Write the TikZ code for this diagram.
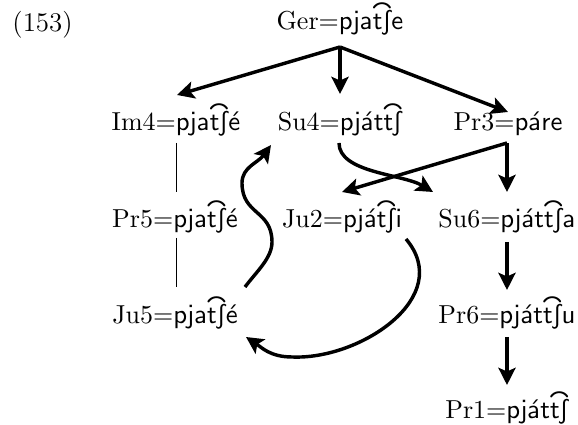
\documentclass[tikz,border=0pt]{standalone}
\usepackage{tipa}
\usetikzlibrary{arrows.meta,calc}
\newcommand\ipa[1]{\textipa{\fontfamily{cmss}\selectfont #1}}
\begin{document}
\begin{tikzpicture}[x=0.408pt,y=-0.408pt,
  lab/.style={anchor=base,inner sep=0pt,font=\fontsize{10.6}{12}\selectfont},
  arr/.style={line width=1.4pt,-{Stealth[length=7pt,width=7pt,inset=1.5pt]}},
  thin/.style={line width=0.4pt}]
\useasboundingbox (0,0) rectangle (578,425);
\node[anchor=base west,inner sep=0pt,font=\fontsize{11}{13}\selectfont] (num) at (12,32) {(153)};
\node[lab] (ger) at (340,30) {Ger=\ipa{pja\t{tS}e}};
\node[lab] (im4) at (176,131) {Im4=\ipa{pja\t{tS}\'e}};
\node[lab] (su4) at (340,131) {Su4=\ipa{pj\'at\t{tS}}};
\node[lab] (pr3) at (508,131) {Pr3=\ipa{p\'are}};
\node[lab] (pr5) at (175,228) {Pr5=\ipa{pja\t{tS}\'e}};
\node[lab] (ju2) at (342,228) {Ju2=\ipa{pj\'a\t{tS}i}};
\node[lab] (su6) at (507,228) {Su6=\ipa{pj\'at\t{tS}a}};
\node[lab] (ju5) at (175,324) {Ju5=\ipa{pja\t{tS}\'e}};
\node[lab] (pr6) at (507,324) {Pr6=\ipa{pj\'at\t{tS}u}};
\node[lab] (pr1) at (507,419) {Pr1=\ipa{pj\'at\t{tS}}};
% straight arrows
\draw[arr] ($(ger.base)+(0,17)$) -- ($(im4.base)+(1,-36)$);
\draw[arr] ($(ger.base)+(0,17)$) -- ($(su4.base)+(0,-37)$);
\draw[arr] ($(ger.base)+(0,17)$) -- ($(pr3.base)+(0,-19)$);
\draw[arr] ($(pr3.base)+(-1,12)$) -- ($(ju2.base)+(0,-36)$);
\draw[arr] ($(pr3.base)+(-1,12)$) -- ($(su6.base)+(0,-36)$);
\draw[arr] ($(su6.base)+(0,14)$) -- ($(pr6.base)+(0,-34)$);
\draw[arr] ($(pr6.base)+(0,13)$) -- ($(pr1.base)+(0,-34)$);
% thin lines
\draw[thin] ($(im4.base)+(0,12)$) -- ($(pr5.base)+(1,-36)$);
\draw[thin] ($(pr5.base)+(1,10)$) -- ($(ju5.base)+(1,-37)$);
% curved arrows
\draw[arr] ($(su4.base)+(-1,12)$) .. controls +(0,30) and +(-30,-18) .. ($(su6.base)+(-74,-36)$);
\coordinate (r1) at ($(ju5.base)+(97,-82)$);
\coordinate (l1) at ($(ju5.base)+(67,-141)$);
\draw[arr] ($(ju5.base)+(70,-37)$) .. controls +(12,-16) and +(0,16) .. (r1)
  .. controls +(0,-32) and +(0,32) .. (l1)
  .. controls +(0,-16) and +(-13,18) .. ($(su4.base)+(-69,14)$);
\coordinate (b1) at ($(ju5.base)+(117,33)$);
\draw[arr] ($(ju2.base)+(64,11)$) .. controls +(49,58) and +(68,3) .. (b1)
  .. controls +(-22,0) and +(15,10) .. ($(ju5.base)+(71,13)$);
\end{tikzpicture}
\end{document}
